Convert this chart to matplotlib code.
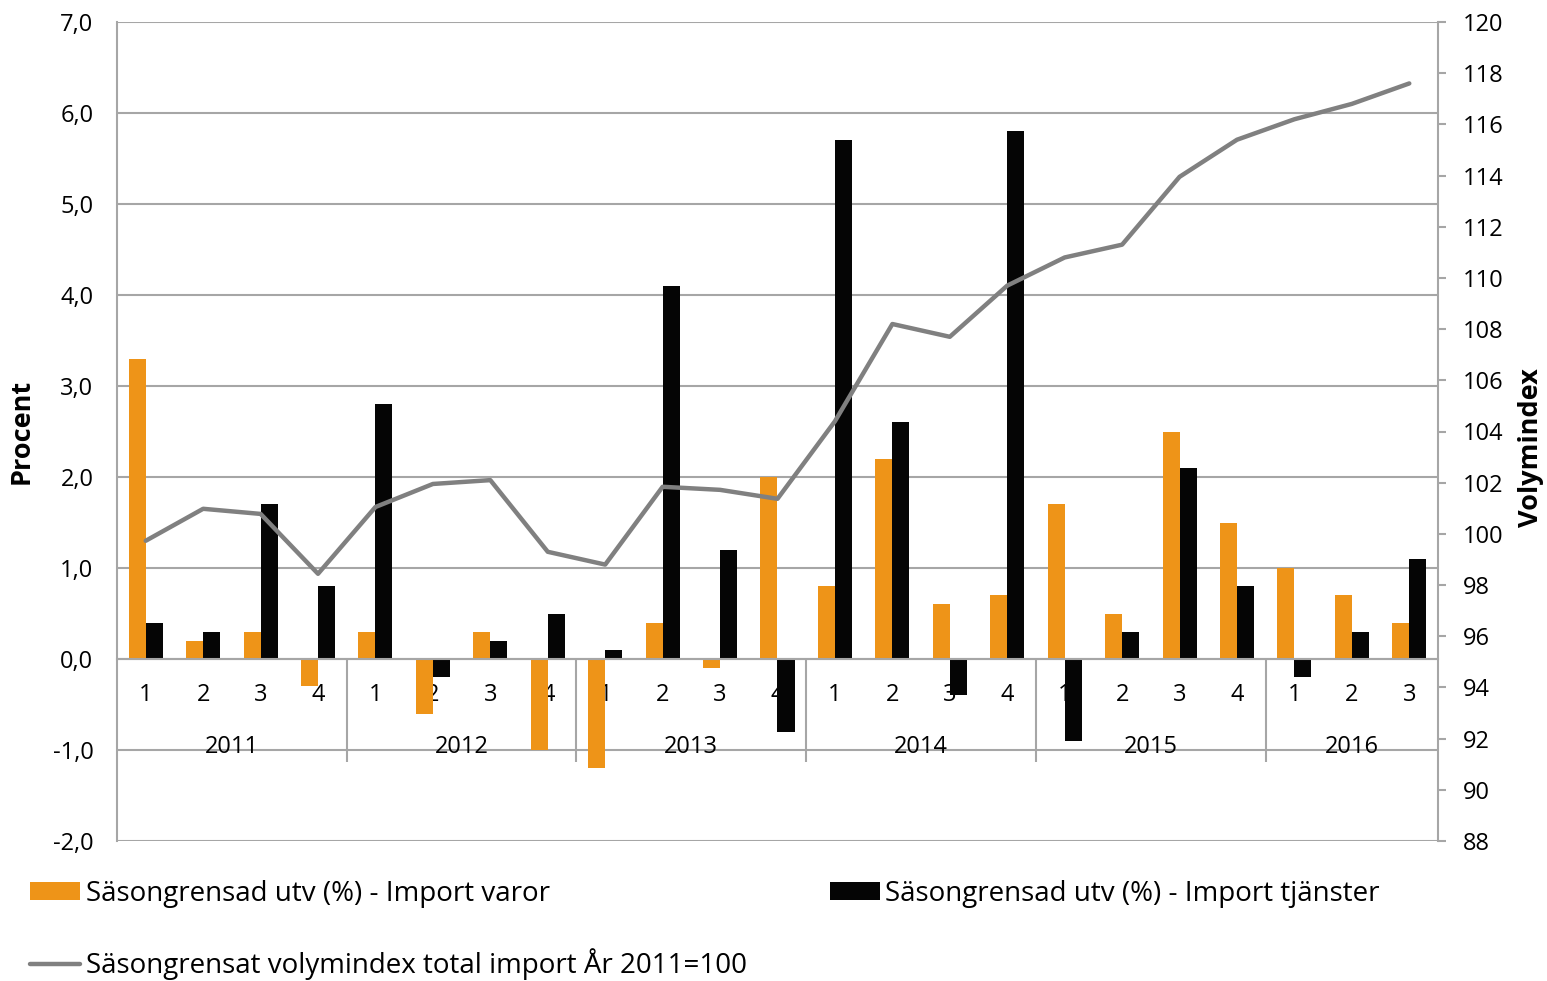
import matplotlib
matplotlib.use("Agg")
import matplotlib.pyplot as plt
import numpy as np

plt.rcParams['font.family'] = ['Open Sans', 'DejaVu Sans']

years = ['2011', '2012', '2013', '2014', '2015', '2016']
quarters = ['1', '2', '3', '4'] * 5 + ['1', '2', '3']

varor = [3.3, 0.2, 0.3, -0.3, 0.3, -0.6, 0.3, -1.0, -1.2, 0.4, -0.1, 2.0,
         0.8, 2.2, 0.6, 0.7, 1.7, 0.5, 2.5, 1.5, 1.0, 0.7, 0.4]
tjanster = [0.4, 0.3, 1.7, 0.8, 2.8, -0.2, 0.2, 0.5, 0.1, 4.1, 1.2, -0.8,
            5.7, 2.6, -0.4, 5.8, -0.9, 0.3, 2.1, 0.8, -0.2, 0.3, 1.1]
volymindex = [99.73, 100.98, 100.78, 98.44, 101.05, 101.95, 102.1, 99.3,
              98.8, 101.84, 101.72, 101.37, 104.4, 108.2, 107.7, 109.7,
              110.8, 111.3, 113.95, 115.4, 116.2, 116.8, 117.6]

lab_varor = 'Säsongrensad utv (%) - Import varor'
lab_tj = 'Säsongrensad utv (%) - Import tjänster'
lab_vol = 'Säsongrensat volymindex total import År 2011=100'

orange = '#EE9418'
black = '#050505'
gray = '#808080'
grid_c = '#A6A6A6'

x = np.arange(len(quarters))
w = 0.296

fig = plt.figure(figsize=(15.47, 9.81), dpi=100)
ax = fig.add_axes([117 / 1547, 1 - 841 / 981, (1438 - 117) / 1547, (841 - 22) / 981])

b1 = ax.bar(x - w / 2, varor, w, color=orange, label=lab_varor, zorder=3)
b2 = ax.bar(x + w / 2, tjanster, w, color=black, label=lab_tj, zorder=3)

ax.set_xlim(-0.5, len(quarters) - 0.5)
ax.set_ylim(-2, 7)
ax.set_yticks(np.arange(-2, 8, 1))
ax.set_yticklabels([f'{v:.1f}'.replace('.', ',') for v in np.arange(-2, 8, 1)])
ax.yaxis.grid(True, color=grid_c, lw=1.5, zorder=0)
ax.tick_params(axis='y', length=0, pad=17, labelsize=17)

for s in ['left', 'right', 'top', 'bottom']:
    ax.spines[s].set_color(grid_c)
    ax.spines[s].set_linewidth(1.5)
ax.spines['top'].set_visible(False)
ax.spines['bottom'].set_position(('data', 0))
ax.spines['bottom'].set_zorder(4)

ax.set_xticks(x)
ax.set_xticklabels(quarters)
ax.tick_params(axis='x', which='major', length=0, pad=17, labelsize=17)
bounds = np.arange(3.5, len(quarters) - 1, 4)
ax.set_xticks(bounds, minor=True)
ax.tick_params(axis='x', which='minor', length=74, width=1.5, color=grid_c, direction='out')

for i, yr in enumerate(years):
    start = i * 4
    cx = (start - 0.5 + min(start + 3.5, len(quarters) - 0.5)) / 2
    ax.text(cx, -0.965, yr, ha='center', va='center', fontsize=17, zorder=5)

ax.set_ylabel('Procent', fontsize=19.5, fontweight='bold')
ax.yaxis.set_label_coords(-82 / 1321, 0.5)

ax2 = ax.twinx()
ax2.set_ylim(88, 120)
ax2.set_yticks(np.arange(88, 121, 2))
line, = ax2.plot(x, volymindex, color=gray, lw=3.2, solid_capstyle='round', label=lab_vol, zorder=5)
ax2.tick_params(axis='y', length=6, width=1.5, color=grid_c, pad=12, labelsize=17)
for s in ['left', 'right', 'top', 'bottom']:
    ax2.spines[s].set_visible(False)
ax2.set_ylabel('Volymindex', fontsize=19.5, fontweight='bold')
ax2.yaxis.set_label_coords(1 + 80 / 1321, 0.48)

leg = fig.legend([b1, line, b2], [lab_varor, lab_vol, lab_tj], ncol=2,
                 loc='upper left', bbox_to_anchor=(30 / 1547, 1 - 880 / 981),
                 frameon=False, fontsize=20, handlelength=1.8, handleheight=0.6,
                 handletextpad=0.2, labelspacing=1.45, columnspacing=3.0,
                 borderpad=0, borderaxespad=0)

fig.savefig('out.png', dpi=100)
